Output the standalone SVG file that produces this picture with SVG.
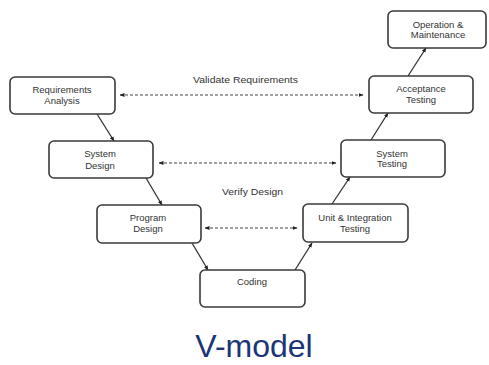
<svg xmlns="http://www.w3.org/2000/svg" width="489" height="365" viewBox="0 0 489 365">
<defs>
<style>
.box{fill:#fff;stroke:#3a3a3a;stroke-width:1.6}
.t{font-family:"Liberation Sans",Arial,sans-serif;font-size:9.5px;fill:#333;text-anchor:middle}
.lbl{font-family:"Liberation Sans",Arial,sans-serif;font-size:9.5px;fill:#333}
.flow{stroke:#333;stroke-width:1.3;fill:none;marker-end:url(#ah)}
.dash{stroke:#444;stroke-width:1.2;fill:none;stroke-dasharray:3 2;marker-start:url(#ahs);marker-end:url(#ah)}
</style>
<marker id="ah" viewBox="0 0 10 10" refX="9" refY="5" markerWidth="5" markerHeight="5" markerUnits="userSpaceOnUse" orient="auto"><path d="M0,1 L10,5 L0,9 z" fill="#222"/></marker>
<marker id="ahs" viewBox="0 0 10 10" refX="1" refY="5" markerWidth="5" markerHeight="5" markerUnits="userSpaceOnUse" orient="auto"><path d="M10,1 L0,5 L10,9 z" fill="#222"/></marker>
</defs>
<rect width="489" height="365" fill="#fff"/>
<g id="connectors">
<line class="flow" x1="97" y1="114" x2="114" y2="141"/>
<line class="flow" x1="146" y1="178" x2="162" y2="205"/>
<line class="flow" x1="192" y1="243" x2="208" y2="270"/>
<line class="flow" x1="295" y1="270" x2="312" y2="243"/>
<line class="flow" x1="332" y1="204" x2="350" y2="177"/>
<line class="flow" x1="371" y1="140" x2="388" y2="113"/>
<line class="flow" x1="408" y1="76" x2="426" y2="48"/>
<line class="dash" x1="120" y1="95" x2="363" y2="95"/>
<line class="dash" x1="159" y1="163" x2="336" y2="163"/>
<line class="dash" x1="205" y1="228" x2="297" y2="228"/>
<text class="lbl" x="193" y="82.5" textLength="105" lengthAdjust="spacingAndGlyphs">Validate Requirements</text>
<text class="lbl" x="222" y="194.5" textLength="61" lengthAdjust="spacingAndGlyphs">Verify Design</text>
</g>
<g id="req">
<rect class="box" x="10" y="77" width="105" height="37" rx="5"/>
<text class="t" x="62" y="92.5">Requirements</text>
<text class="t" x="62" y="103.5">Analysis</text>
</g>
<g id="sysdesign">
<rect class="box" x="49" y="141" width="104" height="37" rx="5"/>
<text class="t" x="100" y="157">System</text>
<text class="t" x="100" y="168.5">Design</text>
</g>
<g id="progdesign">
<rect class="box" x="97" y="205" width="104" height="38" rx="5"/>
<text class="t" x="148" y="220.5">Program</text>
<text class="t" x="148" y="232">Design</text>
</g>
<g id="coding">
<rect class="box" x="200" y="270" width="105" height="37" rx="5"/>
<text class="t" x="252" y="284.5">Coding</text>
</g>
<g id="unit">
<rect class="box" x="303" y="204" width="105" height="38" rx="5"/>
<text class="t" x="355" y="220.5">Unit &amp; Integration</text>
<text class="t" x="355" y="231.5">Testing</text>
</g>
<g id="systest">
<rect class="box" x="341" y="140" width="104" height="37" rx="5"/>
<text class="t" x="392" y="156.5">System</text>
<text class="t" x="392" y="167">Testing</text>
</g>
<g id="accept">
<rect class="box" x="369" y="76" width="104" height="37" rx="5"/>
<text class="t" x="421" y="91.5">Acceptance</text>
<text class="t" x="421" y="102.5">Testing</text>
</g>
<g id="ops">
<rect class="box" x="388" y="11" width="98" height="37" rx="5"/>
<text class="t" x="438" y="27.5">Operation &amp;</text>
<text class="t" x="438" y="38">Maintenance</text>
</g>
<text x="254" y="357" font-family="'Liberation Sans',Arial,sans-serif" font-size="32" fill="#1c3578" text-anchor="middle">V-model</text>
</svg>
